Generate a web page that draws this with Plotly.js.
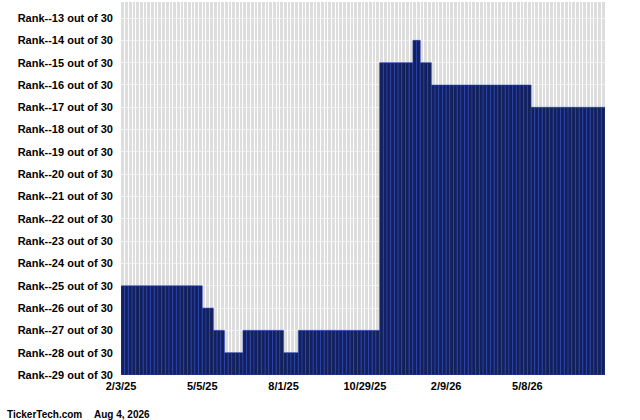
<!DOCTYPE html>
<html>
<head>
<meta charset="utf-8">
<script src="https://cdn.plot.ly/plotly-3.0.1.min.js"></script>
<style>
  html, body { margin: 0; padding: 0; background: #fff; }
  #chart { width: 640px; height: 420px; }
</style>
</head>
<body>
<div id="chart"></div>
<script>
// Rank (out of 30) for each observation, oldest first
const ranks = [
  25,25,25,25,25,25,25,25,25,25,25,25,25,25,25,25,25,25,25,25,25,25,
  26,26,26,
  27,27,27,
  28,28,28,28,28,
  27,27,27,27,27,27,27,27,27,27,27,
  28,28,28,28,
  27,27,27,27,27,27,27,27,27,27,27,27,27,27,27,27,27,27,27,27,27,27,
  15,15,15,15,15,15,15,15,15,
  14,14,
  15,15,15,
  16,16,16,16,16,16,16,16,16,16,16,16,16,16,16,16,16,16,16,16,16,16,16,16,16,16,16,
  17,17,17,17,17,17,17,17,17,17,17,17,17,17,17,17,17,17,17,17
];
const dateLabels = ["2/3/25", "5/5/25", "8/1/25", "10/29/25", "2/9/26", "5/8/26"];
const labelEvery = 22;
const rankTicks = [13,14,15,16,17,18,19,20,21,22,23,24,25,26,27,28,29];
const totalTeams = 30;
const baseRank = 29;

const xs = ranks.map((_, i) => i);
const trace = {
  type: 'bar',
  x: xs,
  y: ranks.map(r => r - baseRank),
  base: baseRank,
  width: 1,
  marker: { color: '#13205a', line: { color: '#2643c0', width: 0.6 } },
  hoverinfo: 'skip'
};

const fam = 'Liberation Sans, Arial, sans-serif';
const tickBold = { family: fam, size: 11, color: '#000', weight: 700 };
const noteBold = { family: fam, size: 10, color: '#000', weight: 700 };

const layout = {
  width: 640, height: 420,
  margin: { l: 121, r: 35, t: 2, b: 45, pad: 0 },
  paper_bgcolor: '#ffffff',
  plot_bgcolor: '#dddddd',
  showlegend: false,
  bargap: 0,
  xaxis: {
    range: [-0.5, ranks.length - 0.5],
    tickmode: 'array',
    tickvals: dateLabels.map((_, k) => k * labelEvery - 0.5),
    ticktext: dateLabels,
    tickfont: tickBold,
    ticks: '',
    ticklabelstandoff: 3,
    showgrid: true, gridcolor: '#ffffff', gridwidth: 1,
    minor: { tick0: 0.5, dtick: 1, showgrid: true, gridcolor: '#ffffff', gridwidth: 1 },
    zeroline: false, showline: false, fixedrange: true
  },
  yaxis: {
    range: [baseRank, 12.28],
    tickmode: 'array',
    tickvals: rankTicks,
    ticktext: rankTicks.map(r => 'Rank--' + r + ' out of ' + totalTeams),
    tickfont: tickBold,
    ticks: '',
    ticklabelstandoff: 7,
    showgrid: true, gridcolor: 'rgba(255,255,255,0.6)', gridwidth: 1,
    zeroline: false, showline: false, fixedrange: true
  },
  annotations: [
    { text: 'TickerTech.com', xref: 'paper', yref: 'paper', x: (5 - 121) / 484, y: (375 - 414) / 373,
      xanchor: 'left', yanchor: 'middle', showarrow: false, font: noteBold },
    { text: 'Aug 4, 2026', xref: 'paper', yref: 'paper', x: (92 - 121) / 484, y: (375 - 414) / 373,
      xanchor: 'left', yanchor: 'middle', showarrow: false, font: noteBold }
  ]
};

Plotly.newPlot('chart', [trace], layout, { staticPlot: true, displayModeBar: false });
</script>
</body>
</html>
